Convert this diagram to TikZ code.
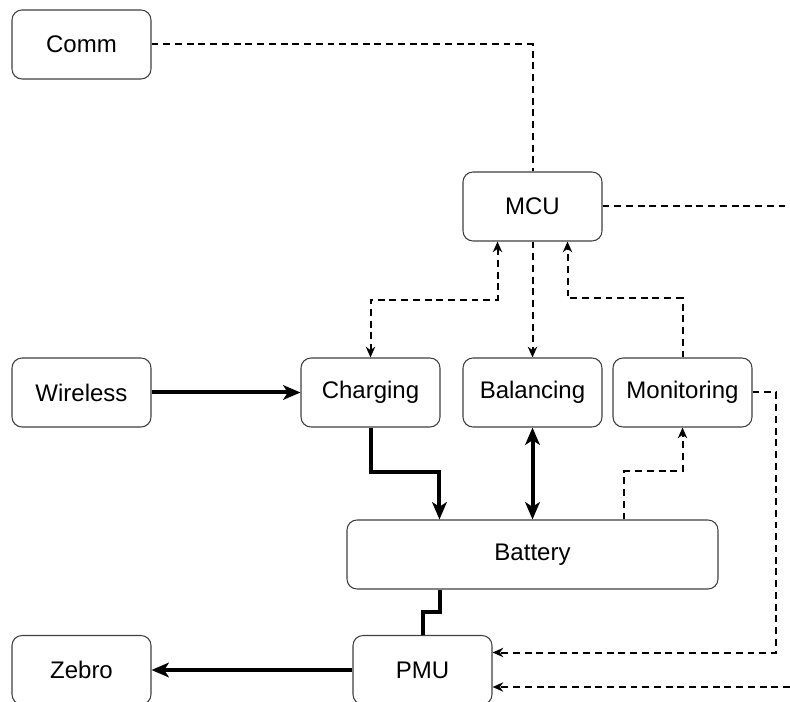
\documentclass[tikz,border=0pt]{standalone}
\usepackage{fontspec}
\setmainfont{Liberation Sans}
\usetikzlibrary{arrows.meta,calc}
\begin{document}
\begin{tikzpicture}[x=0.75pt,y=-0.75pt,
  box/.style={draw=black!75,line width=0.8pt,rounded corners=7.5pt,fill=white,
    minimum width=104.25pt,minimum height=51.75pt,inner sep=0pt,
    font=\fontsize{18}{21}\selectfont},
  dsh/.style={draw=black,line width=1.5pt,dash pattern=on 5.2pt off 3.6pt},
  dtip/.style={-{Stealth[length=8pt,width=7pt,inset=2.5pt]}},
  thk/.style={draw=black,line width=3pt},
  ttip/.style={-{Stealth[length=13pt,width=11pt,inset=3.5pt]}},
  ]
\useasboundingbox (0,0) rectangle (790,702);
\clip (0,0) rectangle (790,702);
\node[box] (comm) at (81.5,44.5) {Comm};
\node[box] (mcu) at (532.5,206.5) {MCU};
\node[box] (wl) at (81.5,392.5) {Wireless};
\node[box] (chg) at (370.5,392.5) {Charging};
\node[box] (bal) at (532.5,392.5) {Balancing};
\node[box] (mon) at (682.5,392.5) {Monitoring};
\node[box,minimum width=278.25pt] (bat) at (532.5,554.5) {Battery};
\node[box] (pmu) at (422.5,670) {PMU};
\node[box] (zeb) at (81.5,670) {Zebro};
\coordinate (mcuout) at (790,206.5);
\coordinate (pmuin) at (790,687);
\coordinate (m1) at ($(mcu.south)+(-35,0)$);
\coordinate (m2) at ($(mcu.south)+(35,0)$);
% dashed
\draw[dsh] (comm.east) -| (mcu.north);
\draw[dsh] (mcu.east) -- (mcuout);
\draw[dsh,{Stealth[length=8pt,width=7pt,inset=2.5pt]}-{Stealth[length=8pt,width=7pt,inset=2.5pt]}] (m1) -- ++(0,58) -| (chg.north);
\draw[dsh,dtip] (mcu.south) -- (bal.north);
\draw[dsh,dtip] (mon.north) -- ++(0,-59) -| (m2);
\draw[dsh,dtip] (mon.east) -- ++(23.5,0) |- ($(pmu.east)+(0,-17.5)$);
\draw[dsh,dtip] (pmuin) -- (pmuin -| pmu.east);
\draw[dsh,dtip] ($(bat.north west)+(278,0)$) -- ++(0,-48) -| (mon.south);
% thick
\draw[thk,ttip] (wl.east) -- (chg.west);
\draw[thk,ttip] (chg.south) -- ++(0,44.5) -| ($(bat.north west)+(93,0)$);
\draw[thk,{Stealth[length=13pt,width=11pt,inset=3.5pt]}-{Stealth[length=13pt,width=11pt,inset=3.5pt]}] (bal.south) -- (bat.north);
\draw[thk] ($(bat.south west)+(94,0)$) -- ++(0,22.5) -| (pmu.north);
\draw[thk,ttip] (pmu.west) -- (zeb.east);
\end{tikzpicture}
\end{document}
